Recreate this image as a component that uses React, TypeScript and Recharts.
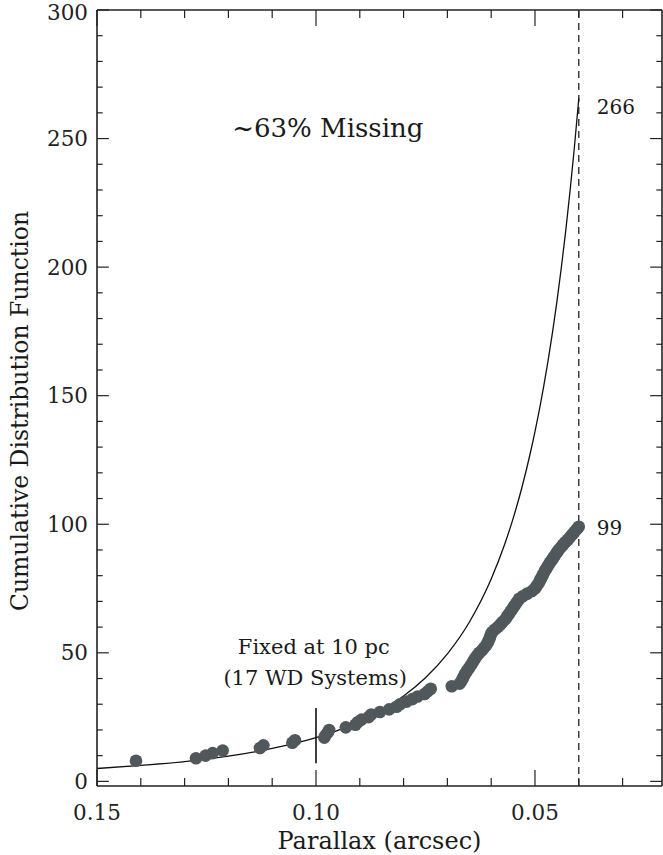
import React from 'react';
import { ComposedChart, Line, Scatter, XAxis, YAxis, ReferenceLine, ReferenceDot } from 'recharts';

// ---- tick labels ----
const xTickLabels = [0.15, 0.1, 0.05];
const yTickLabels = [0, 50, 100, 150, 200, 250, 300];
const xMinorTicks = [0.14, 0.13, 0.12, 0.11, 0.09, 0.08, 0.07, 0.06, 0.04, 0.03];
const yMinorTicks = [10, 20, 30, 40, 60, 70, 80, 90, 110, 120, 130, 140, 160, 170, 180, 190, 210, 220, 230, 240, 260, 270, 280, 290];

// ---- expected cumulative curve ----
const curveParallax = [0.15, 0.14, 0.13, 0.12, 0.11, 0.1, 0.095, 0.09, 0.085, 0.08, 0.075, 0.07, 0.065, 0.06, 0.057, 0.055, 0.053, 0.051, 0.05, 0.049, 0.048, 0.047, 0.046, 0.045, 0.044, 0.043, 0.042, 0.041, 0.04];
const curveValue = [5.0, 6.2, 7.7, 9.8, 12.8, 17.0, 19.8, 23.3, 27.7, 33.2, 40.3, 49.6, 61.9, 78.7, 91.8, 102.2, 114.2, 128.2, 136.0, 144.5, 153.7, 163.7, 174.6, 186.5, 199.6, 213.8, 229.5, 246.6, 265.6];

const obsParallax = [
  0.1411, 0.1274, 0.1252, 0.1236, 0.1213, 0.1128, 0.1120, 0.1054, 0.1048,
  0.0981, 0.0978, 0.0973, 0.0970, 0.0932, 0.0910, 0.0905, 0.0896, 0.0880, 0.0874,
  0.0854, 0.0833, 0.0816, 0.0808, 0.0793, 0.0780, 0.0768, 0.0752, 0.0745, 0.0738,
  0.0690, 0.0672, 0.0668, 0.0665, 0.0662, 0.0659, 0.0655, 0.0651, 0.0647, 0.0643,
  0.0640, 0.0636, 0.0632, 0.0627, 0.0621, 0.0616, 0.0611, 0.0608, 0.0605, 0.0603,
  0.0601, 0.0598, 0.0592, 0.0585, 0.0579, 0.0574, 0.0568, 0.0564, 0.0560, 0.0556,
  0.0552, 0.0548, 0.0544, 0.0540, 0.0536, 0.0528, 0.0518, 0.0507, 0.0500, 0.0496,
  0.0492, 0.0489, 0.0486, 0.0483, 0.0480, 0.0477, 0.0473, 0.0470, 0.0466, 0.0462,
  0.0458, 0.0454, 0.0450, 0.0446, 0.0441, 0.0436, 0.0431, 0.0425, 0.0420, 0.0415,
  0.0410, 0.0405, 0.0400,
];
const obsCount = [
  8, 9, 10, 11, 12, 13, 14, 15, 16,
  17, 18, 19, 20, 21, 22, 23, 24, 25, 26,
  27, 28, 29, 30, 31, 32, 33, 34, 35, 36,
  37, 38, 39, 40, 41, 42, 43, 44, 45, 46,
  47, 48, 49, 50, 51, 52, 53, 54, 55, 56,
  57, 58, 59, 60, 61, 62, 63, 64, 65, 66,
  67, 68, 69, 70, 71, 72, 73, 74, 75, 76,
  77, 78, 79, 80, 81, 82, 83, 84, 85, 86,
  87, 88, 89, 90, 91, 92, 93, 94, 95, 96,
  97, 98, 99,
];

const X_DOMAIN: [number, number] = [0.021, 0.15];
const Y_DOMAIN: [number, number] = [-1.8, 300];
const LIMIT_PARALLAX = 0.04;
const FIXED_PARALLAX = 0.1;
const EXPECTED_TOTAL = 266;
const OBSERVED_TOTAL = 99;

const curveData = curveParallax.map((x, i) => ({ x, y: curveValue[i] }));
const obsData = obsParallax.map((x, i) => ({ x, y: obsCount[i] }));

const FONT = '"DejaVu Serif", serif';
const INK = '#1a1a1a';

// tick lengths (x ticks measured in y-units, y ticks in x-units)
const XT_MAJOR = 6.2;
const XT_MINOR = 3.1;
const YT_MAJOR = 0.0027;
const YT_MINOR = 0.0013;

const renderDot = (p: any) => <circle cx={p.cx} cy={p.cy} r={6.3} fill="#50585b" />;

const textLabel = (text: string, dx: number, dy: number, size: number, anchor: string) => (props: any) => {
  const vb = props.viewBox || {};
  return (
    <text x={vb.x + dx} y={vb.y + dy} fontFamily={FONT} fontSize={size} fill={INK} textAnchor={anchor}>
      {text}
    </text>
  );
};

const yTitle = (props: any) => {
  const vb = props.viewBox || {};
  const cx = vb.x + 28;
  const cy = vb.y + vb.height / 2 + 13;
  return (
    <text x={cx} y={cy} transform={`rotate(-90 ${cx} ${cy})`} textAnchor="middle" fontFamily={FONT} fontSize={23.5} fill={INK}>
      Cumulative Distribution Function
    </text>
  );
};

const xTitle = (props: any) => {
  const vb = props.viewBox || {};
  return (
    <text x={vb.x + vb.width / 2} y={vb.y + 63} textAnchor="middle" fontFamily={FONT} fontSize={24} fill={INK}>
      Parallax (arcsec)
    </text>
  );
};

export default function App() {
  const tickStyle = { fontFamily: FONT, fontSize: 21.5, fill: '#222' };
  const frame = { stroke: '#222', strokeWidth: 1.6 };
  const tickLineProps = { stroke: '#222', strokeWidth: 1.2, ifOverflow: 'visible' as const };
  return (
    <div style={{ position: 'absolute', left: 0, top: 0, background: '#fff' }}>
      <ComposedChart width={663} height={855} margin={{ top: 10, right: 1, left: 0, bottom: 0 }}>
        <XAxis
          dataKey="x"
          type="number"
          domain={X_DOMAIN}
          reversed
          allowDataOverflow
          ticks={xTickLabels}
          tickFormatter={(v: number) => v.toFixed(2)}
          tick={tickStyle}
          tickLine={false}
          tickSize={0}
          tickMargin={19}
          axisLine={frame}
          height={69}
          label={xTitle}
        />
        <YAxis
          type="number"
          domain={Y_DOMAIN}
          allowDataOverflow
          ticks={yTickLabels}
          tick={tickStyle}
          tickLine={false}
          tickSize={0}
          tickMargin={9}
          axisLine={frame}
          width={97}
          label={yTitle}
        />
        {/* top & right frame */}
        <ReferenceLine y={Y_DOMAIN[1]} {...frame} ifOverflow="visible" />
        <ReferenceLine x={X_DOMAIN[0]} {...frame} ifOverflow="visible" />

        {/* inward ticks: bottom & top */}
        {xTickLabels.map((v) => (
          <ReferenceLine key={`xb${v}`} segment={[{ x: v, y: Y_DOMAIN[0] }, { x: v, y: Y_DOMAIN[0] + XT_MAJOR }]} {...tickLineProps} />
        ))}
        {xMinorTicks.map((v) => (
          <ReferenceLine key={`xbm${v}`} segment={[{ x: v, y: Y_DOMAIN[0] }, { x: v, y: Y_DOMAIN[0] + XT_MINOR }]} {...tickLineProps} />
        ))}
        {xTickLabels.map((v) => (
          <ReferenceLine key={`xt${v}`} segment={[{ x: v, y: Y_DOMAIN[1] }, { x: v, y: Y_DOMAIN[1] - XT_MAJOR }]} {...tickLineProps} />
        ))}
        {xMinorTicks.map((v) => (
          <ReferenceLine key={`xtm${v}`} segment={[{ x: v, y: Y_DOMAIN[1] }, { x: v, y: Y_DOMAIN[1] - XT_MINOR }]} {...tickLineProps} />
        ))}
        {/* inward ticks: left & right */}
        {yTickLabels.map((v) => (
          <ReferenceLine key={`yl${v}`} segment={[{ x: X_DOMAIN[1], y: v }, { x: X_DOMAIN[1] - YT_MAJOR, y: v }]} {...tickLineProps} />
        ))}
        {yMinorTicks.map((v) => (
          <ReferenceLine key={`ylm${v}`} segment={[{ x: X_DOMAIN[1], y: v }, { x: X_DOMAIN[1] - YT_MINOR, y: v }]} {...tickLineProps} />
        ))}
        {yTickLabels.map((v) => (
          <ReferenceLine key={`yr${v}`} segment={[{ x: X_DOMAIN[0], y: v }, { x: X_DOMAIN[0] + YT_MAJOR, y: v }]} {...tickLineProps} />
        ))}
        {yMinorTicks.map((v) => (
          <ReferenceLine key={`yrm${v}`} segment={[{ x: X_DOMAIN[0], y: v }, { x: X_DOMAIN[0] + YT_MINOR, y: v }]} {...tickLineProps} />
        ))}

        {/* limit line */}
        <ReferenceLine x={LIMIT_PARALLAX} stroke="#222" strokeWidth={1.3} strokeDasharray="7 5" ifOverflow="visible" />
        {/* 10 pc marker */}
        <ReferenceLine segment={[{ x: FIXED_PARALLAX, y: 7 }, { x: FIXED_PARALLAX, y: 28.5 }]} stroke="#111" strokeWidth={1.6} ifOverflow="visible" />

        <Line data={curveData} dataKey="y" type="monotone" stroke="#111" strokeWidth={1.3} dot={false} activeDot={false} isAnimationActive={false} />
        <Scatter data={obsData} dataKey="y" shape={renderDot} isAnimationActive={false} />

        {/* annotations */}
        <ReferenceDot x={LIMIT_PARALLAX} y={EXPECTED_TOTAL} r={0} stroke="none" fill="none" ifOverflow="visible" label={textLabel(String(EXPECTED_TOTAL), 18, 17, 20, 'start')} />
        <ReferenceDot x={LIMIT_PARALLAX} y={OBSERVED_TOTAL} r={0} stroke="none" fill="none" ifOverflow="visible" label={textLabel(String(OBSERVED_TOTAL), 18, 8, 20, 'start')} />
        <ReferenceDot x={0.0973} y={250.6} r={0} stroke="none" fill="none" ifOverflow="visible" label={textLabel('~63% Missing', 0, 0, 26, 'middle')} />
        <ReferenceDot x={0.1005} y={49.7} r={0} stroke="none" fill="none" ifOverflow="visible" label={textLabel('Fixed at 10 pc', 0, 0, 21, 'middle')} />
        <ReferenceDot x={0.1002} y={37.6} r={0} stroke="none" fill="none" ifOverflow="visible" label={textLabel('(17 WD Systems)', 0, 0, 21, 'middle')} />
      </ComposedChart>
    </div>
  );
}
